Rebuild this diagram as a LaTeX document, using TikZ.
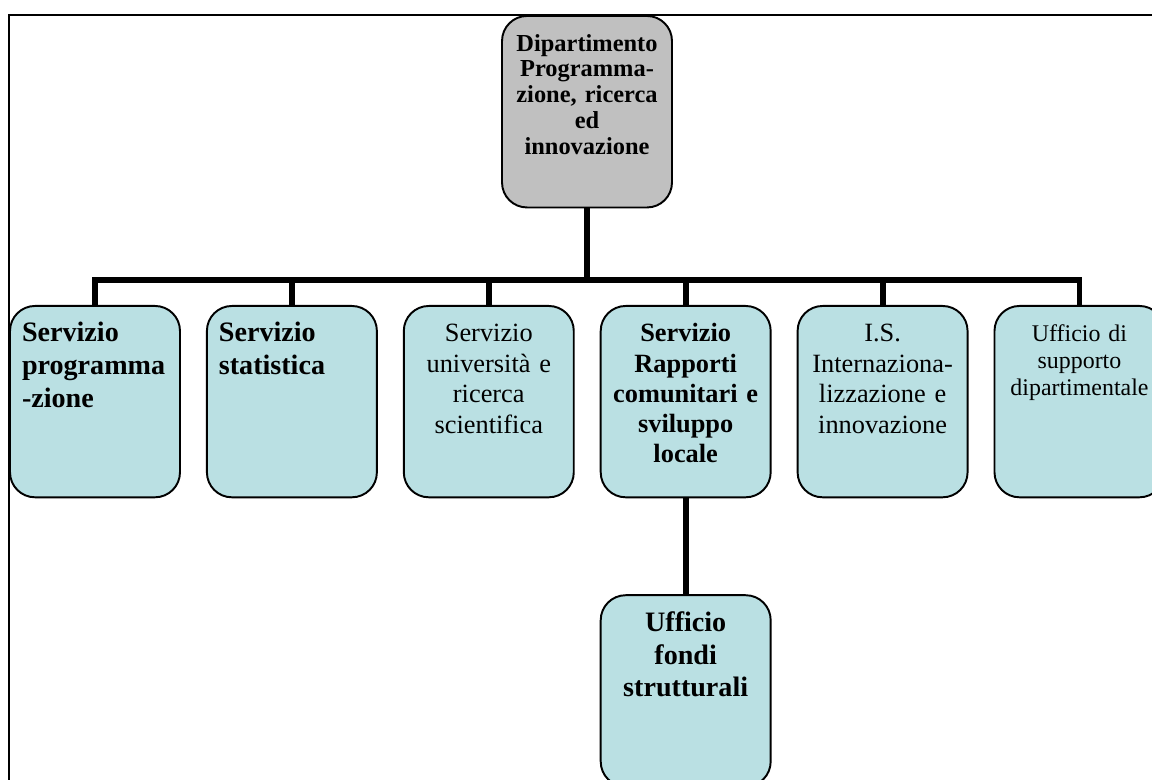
\documentclass[tikz,border=0pt]{standalone}
\usepackage{fontspec}
\setmainfont{Liberation Serif}
\usepackage{tikz}
\usetikzlibrary{positioning}
\definecolor{unitblue}{RGB}{186,224,227}
\definecolor{headgray}{RGB}{192,192,192}
\tikzset{
x=0.02cm, y=-0.02cm, % one unit is one pixel of the page
unit/.style={draw, line width=1.1pt, fill=unitblue, rounded corners=0.5cm,
  anchor=north, align=center, text width=2.92cm, inner xsep=0.24cm, inner ysep=0pt,
  text height=20.5pt, text depth=88.4pt, font=\fontsize{15}{17.3}\selectfont}, % every office box
boldunit/.style={unit, font=\bfseries\fontsize{16}{18.7}\selectfont}, % boxes with bold text
head/.style={unit, fill=headgray, text height=20pt, text depth=89pt,
  font=\bfseries\fontsize{13.9}{14.7}\selectfont}, % the department
link/.style={line width=3.4pt}, % thick connectors
frame/.style={line width=1.1pt},
}

\begin{document}
\begin{tikzpicture}
\useasboundingbox (0,0) rectangle (1152,780);
\clip (0,0) rectangle (1152,780);
\draw[frame] (9,15) rectangle (1170,800);
\node[head] (dept) at (587,15) {Dipartimento\\ Programma-\\ zione, ricerca\\ ed\\ innovazione};
\node[boldunit, align=left] (s1) at (95,305) {Servizio\\ programma\\ -zione};
\node[boldunit, align=left, right=0.5cm of s1] (s2) {Servizio\\ statistica};
\node[unit, right=0.5cm of s2] (s3) {Servizio\\ università e\\ ricerca\\ scientifica};
\node[boldunit, font=\bfseries\fontsize{15}{17.2}\selectfont, right=0.5cm of s3] (s4) {Servizio\\ Rapporti\\ comunitari e\\ sviluppo\\ locale};
\node[unit, right=0.5cm of s4] (s5) {I.S.\\ Internaziona-\\ lizzazione e\\ innovazione};
\node[unit, font=\fontsize{13.6}{15.3}\selectfont, right=0.5cm of s5] (s6) {Ufficio di\\ supporto\\ dipartimentale};
\node[boldunit, below=1.92cm of s4] (u1) {Ufficio\\ fondi\\ strutturali};
\coordinate (bus) at (587,280);
\draw[link] (dept) -- (dept |- bus);
\draw[link] (s1.north) |- (bus) -| (s6.north);
\foreach \n in {s2,s3,s4,s5}
  \draw[link] (\n.north) -- (\n.north |- bus);
\draw[link] (s4) -- (u1);
\end{tikzpicture}
\end{document}
